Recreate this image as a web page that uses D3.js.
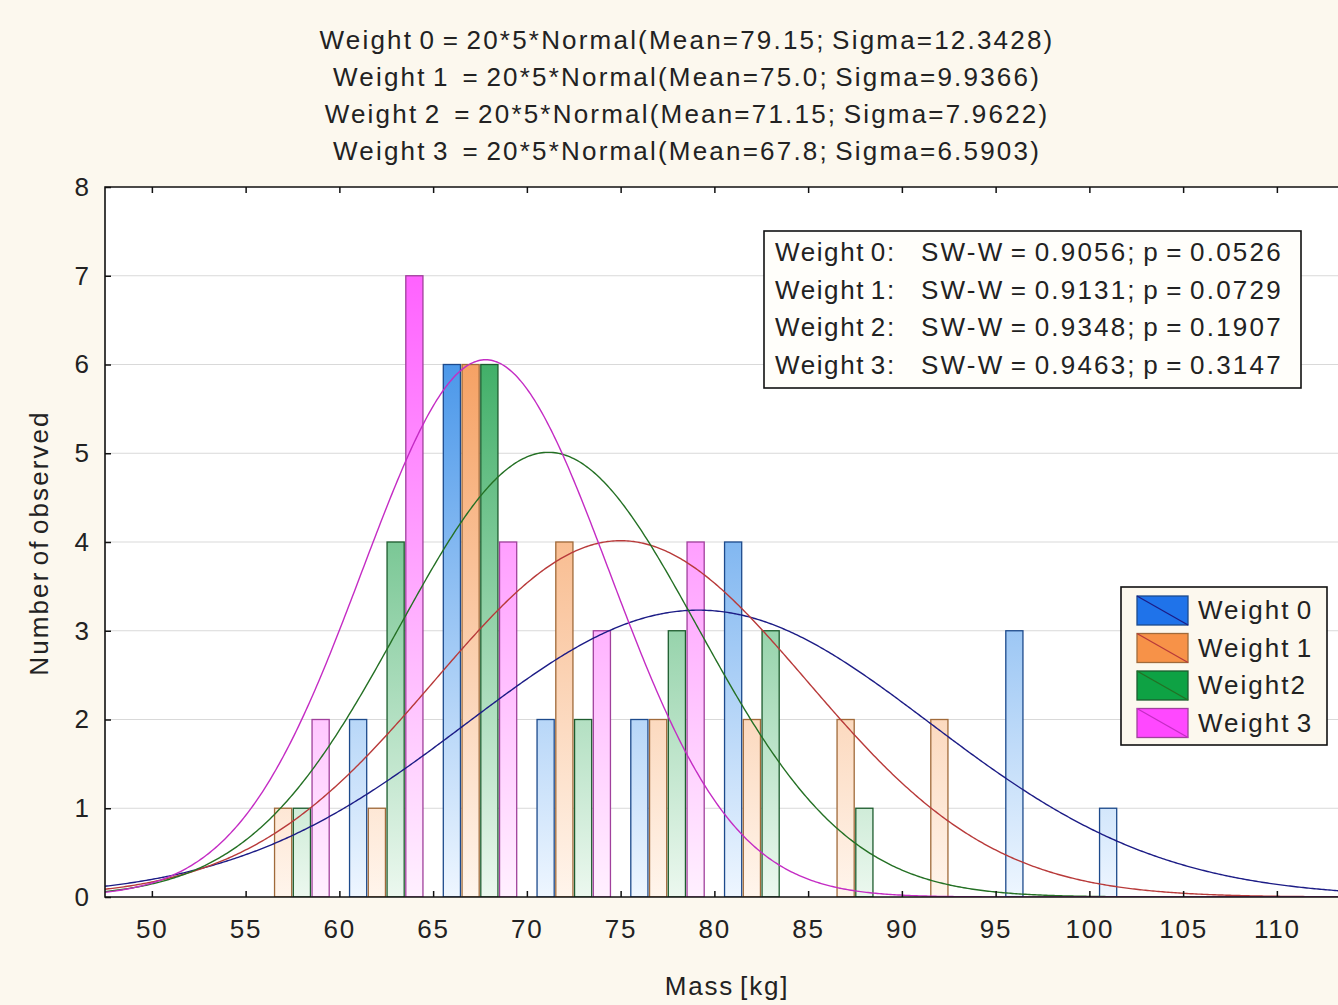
<!DOCTYPE html>
<html>
<head>
<meta charset="utf-8">
<script src="https://cdn.jsdelivr.net/npm/d3@7"></script>
<style>
  html, body { margin: 0; padding: 0; background: #fcf8ee; }
  svg { display: block; }
  text { font-family: "Liberation Sans", Arial, sans-serif; fill: #222; }
</style>
</head>
<body>
<svg id="chart" width="1338" height="1005"></svg>
<script>
// ---- data ----
const seriesNames = ["Weight 0", "Weight 1", "Weight2", "Weight 3"];
const binCenters = [55, 60, 65, 70, 75, 80, 85, 90, 95, 100];
const weight0Counts = [0, 2, 6, 2, 2, 4, 0, 0, 3, 1];
const weight1Counts = [1, 1, 6, 4, 2, 2, 2, 2, 0, 0];
const weight2Counts = [1, 4, 6, 2, 3, 3, 1, 0, 0, 0];
const weight3Counts = [2, 7, 4, 3, 4, 0, 0, 0, 0, 0];
const means = [79.15, 75.0, 71.15, 67.8];
const sigmas = [12.3428, 9.9366, 7.9622, 6.5903];
const sampleSize = 20;
const binWidth = 5;
const titleLines = [
  "Weight 0 = 20*5*Normal(Mean=79.15; Sigma=12.3428)",
  "Weight 1  = 20*5*Normal(Mean=75.0; Sigma=9.9366)",
  "Weight 2  = 20*5*Normal(Mean=71.15; Sigma=7.9622)",
  "Weight 3  = 20*5*Normal(Mean=67.8; Sigma=6.5903)"
];
const statLabels = ["Weight 0:", "Weight 1:", "Weight 2:", "Weight 3:"];
const statValues = [
  "SW-W = 0.9056; p = 0.0526",
  "SW-W = 0.9131; p = 0.0729",
  "SW-W = 0.9348; p = 0.1907",
  "SW-W = 0.9463; p = 0.3147"
];
const xTicks = [50, 55, 60, 65, 70, 75, 80, 85, 90, 95, 100, 105, 110];
const yTicks = [0, 1, 2, 3, 4, 5, 6, 7, 8];

const countsBySeries = [weight0Counts, weight1Counts, weight2Counts, weight3Counts];

// ---- styles ----
const fillStrong = ["#3088e6", "#f4944e", "#25a352", "#ff62ff"];
const fillPale = ["#eef6ff", "#fff5ec", "#ecf8ef", "#fff0ff"];
const barStroke = ["#1d4a8c", "#a06a3a", "#1d5c2e", "#a0409c"];
const swatchFill = ["#1f73ea", "#f79248", "#0ea244", "#ff48ff"];
const curveColor = ["#1c1c86", "#b83a3a", "#247024", "#c42cc4"];
const LS = "1.8px";

const svg = d3.select("#chart");
const W = 1338, H = 1005;

svg.append("rect").attr("width", W).attr("height", H).attr("fill", "#fcf8ee");

const plot = { left: 105, top: 187, bottom: 897 };
const x = d3.scaleLinear().domain([47.5, 115]).range([plot.left, plot.left + 67.5 * 18.75]);
const y = d3.scaleLinear().domain([0, 8]).range([plot.bottom, plot.top]);
const plotRight = x(115);

const defs = svg.append("defs");
defs.append("clipPath").attr("id", "plotClip")
  .append("rect").attr("x", plot.left).attr("y", plot.top)
  .attr("width", plotRight - plot.left).attr("height", plot.bottom - plot.top);

fillStrong.forEach((c, i) => {
  const g = defs.append("linearGradient").attr("id", "grad" + i)
    .attr("gradientUnits", "userSpaceOnUse")
    .attr("x1", 0).attr("x2", 0).attr("y1", y(7)).attr("y2", y(0));
  g.append("stop").attr("offset", 0).attr("stop-color", c);
  g.append("stop").attr("offset", 1).attr("stop-color", fillPale[i]);
});

// plot background
svg.append("rect").attr("x", plot.left).attr("y", plot.top)
  .attr("width", plotRight - plot.left).attr("height", plot.bottom - plot.top)
  .attr("fill", "#ffffff");

// horizontal grid
svg.append("g").selectAll("line").data(yTicks.filter(v => v > 0 && v < 8)).join("line")
  .attr("x1", plot.left).attr("x2", plotRight)
  .attr("y1", d => y(d)).attr("y2", d => y(d))
  .attr("stroke", "#d9d9d9").attr("stroke-width", 1.2);

const body = svg.append("g").attr("clip-path", "url(#plotClip)");

// histogram bars: each series sits one unit further right inside its bin
countsBySeries.forEach((counts, s) => {
  const bars = binCenters.map((c, k) => ({ c: c + (s + 1), n: counts[k] })).filter(d => d.n > 0);
  body.append("g").selectAll("rect").data(bars).join("rect")
    .attr("x", d => x(d.c - 0.5) + 0.8)
    .attr("width", d => x(d.c + 0.5) - x(d.c - 0.5) - 1.6)
    .attr("y", d => y(d.n))
    .attr("height", d => y(0) - y(d.n))
    .attr("fill", "url(#grad" + s + ")")
    .attr("stroke", barStroke[s]).attr("stroke-width", 1.3);
});

// fitted normal curves scaled by N * bin width
const xs = d3.range(47.5, 115.01, 0.1);
const line = d3.line().x(d => x(d[0])).y(d => y(d[1]));
means.forEach((m, s) => {
  const sd = sigmas[s];
  const pts = xs.map(v => [v, sampleSize * binWidth * Math.exp(-0.5 * ((v - m) / sd) ** 2) / (sd * Math.sqrt(2 * Math.PI))]);
  body.append("path").datum(pts).attr("d", line)
    .attr("fill", "none").attr("stroke", curveColor[s]).attr("stroke-width", 1.4);
});

// frame (left, top, bottom)
svg.append("path")
  .attr("d", `M${plotRight},${plot.top}H${plot.left}V${plot.bottom}H${plotRight}`)
  .attr("fill", "none").attr("stroke", "#111").attr("stroke-width", 1.6);

// axes with inward ticks
const xAxisBottom = d3.axisBottom(x).tickValues(xTicks).tickSize(-6).tickPadding(23).tickFormat(d3.format("d"));
const gx = svg.append("g").attr("transform", `translate(0,${plot.bottom})`).call(xAxisBottom);
gx.select(".domain").remove();
gx.selectAll("line").attr("stroke", "#111").attr("stroke-width", 1.5);
gx.selectAll("text").attr("font-size", 26).attr("fill", "#222")
  .attr("font-family", "Liberation Sans, Arial, sans-serif").attr("letter-spacing", LS);

const xAxisTop = d3.axisTop(x).tickValues(xTicks).tickSize(-6).tickFormat("");
const gxt = svg.append("g").attr("transform", `translate(0,${plot.top})`).call(xAxisTop);
gxt.select(".domain").remove();
gxt.selectAll("line").attr("stroke", "#111").attr("stroke-width", 1.5);

const yAxis = d3.axisLeft(y).tickValues(yTicks).tickSize(-6).tickPadding(16).tickFormat(d3.format("d"));
const gy = svg.append("g").attr("transform", `translate(${plot.left},0)`).call(yAxis);
gy.select(".domain").remove();
gy.selectAll("line").attr("stroke", "#111").attr("stroke-width", 1.5);
gy.selectAll("text").attr("font-size", 26).attr("fill", "#222")
  .attr("font-family", "Liberation Sans, Arial, sans-serif");

// axis titles
svg.append("text").attr("x", 727).attr("y", 995).attr("text-anchor", "middle")
  .attr("font-size", 26).attr("letter-spacing", LS).attr("word-spacing", "-3px").text("Mass [kg]");
svg.append("text").attr("transform", "translate(48,543) rotate(-90)").attr("text-anchor", "middle")
  .attr("font-size", 26).attr("letter-spacing", "2.1px").attr("word-spacing", "-4px").text("Number of observed");

// title block
svg.append("g").selectAll("text").data(titleLines).join("text")
  .attr("x", 687).attr("y", (d, i) => 49 + i * 37)
  .attr("text-anchor", "middle").attr("font-size", 26)
  .attr("letter-spacing", "2.2px").attr("word-spacing", "-3px")
  .style("white-space", "pre")
  .text(d => d);

// Shapiro-Wilk box
const sb = svg.append("g");
sb.append("rect").attr("x", 764).attr("y", 231).attr("width", 537).attr("height", 157)
  .attr("fill", "#fffefa").attr("stroke", "#111").attr("stroke-width", 1.6);
statLabels.forEach((t, i) => {
  sb.append("text").attr("x", 775).attr("y", 261 + i * 37.7).attr("font-size", 26)
    .attr("letter-spacing", "1.6px").attr("word-spacing", "-3px").text(t);
  sb.append("text").attr("x", 921).attr("y", 261 + i * 37.7).attr("font-size", 26)
    .attr("letter-spacing", "2.2px").attr("word-spacing", "-3px").text(statValues[i]);
});

// legend
const lg = svg.append("g");
lg.append("rect").attr("x", 1121).attr("y", 587).attr("width", 206).attr("height", 158)
  .attr("fill", "#fcf8ee").attr("stroke", "#111").attr("stroke-width", 1.6);
seriesNames.forEach((n, i) => {
  const y0 = 596 + i * 37.5;
  lg.append("rect").attr("x", 1137).attr("y", y0).attr("width", 51).attr("height", 29)
    .attr("fill", swatchFill[i]).attr("stroke", barStroke[i]).attr("stroke-width", 1.3);
  lg.append("line").attr("x1", 1137).attr("y1", y0).attr("x2", 1188).attr("y2", y0 + 29)
    .attr("stroke", curveColor[i]).attr("stroke-width", 1.3);
  lg.append("text").attr("x", 1198).attr("y", y0 + 23).attr("font-size", 26)
    .attr("letter-spacing", "2px").attr("word-spacing", "-3px").text(n);
});
</script>
</body>
</html>
